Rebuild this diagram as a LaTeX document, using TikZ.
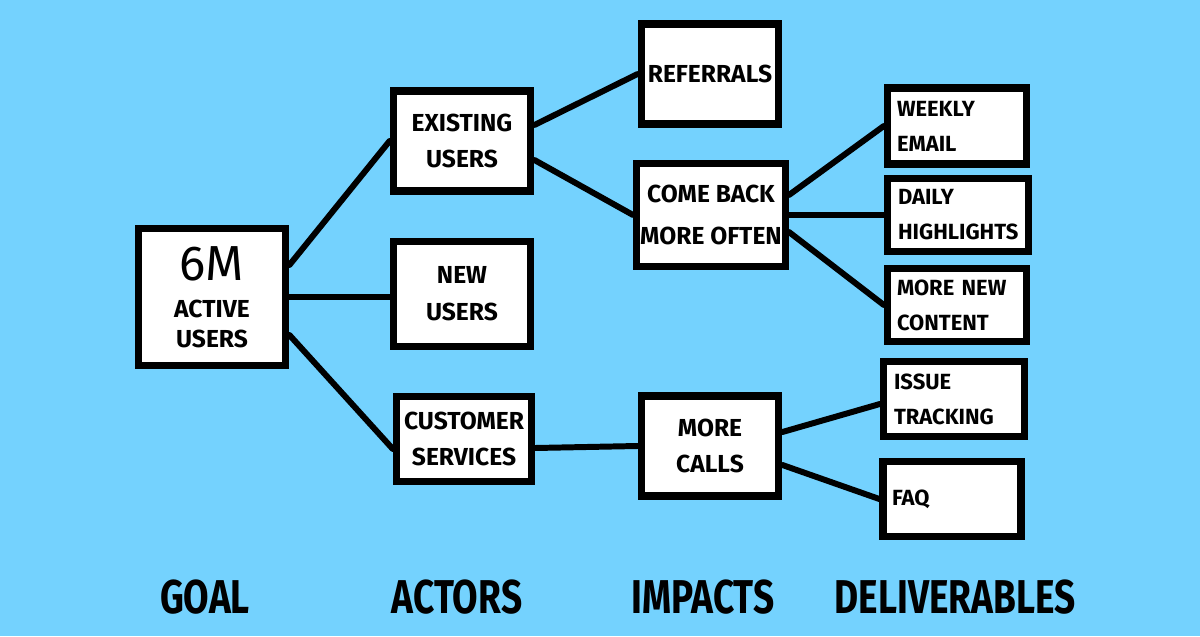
\documentclass[tikz,border=0pt]{standalone}
\usepackage{fontspec}
\usepackage{tkz-euclide}
\usetikzlibrary{calc}

\newfontfamily\handfont{Fira Sans}
\newfontfamily\headfont[FakeStretch=0.78]{Fira Sans}
\definecolor{skyblue}{HTML}{74D2FE}

\tikzset{
  card/.style={draw=black, fill=white, line width=4.2pt, align=center, inner sep=2pt,
    font=\handfont\bfseries\fontsize{14}{21}\selectfont},
  leaf/.style={card, text width=2.4cm, align=left,
    font=\handfont\bfseries\fontsize{12.5}{20}\selectfont},
  twig/.style={line width=3.4pt, line cap=round},
  heading/.style={font=\headfont\bfseries\fontsize{27}{30}\selectfont}
}

\begin{document}
\begin{tikzpicture}[x=0.02cm,y=-0.02cm]
        \fill[skyblue] (0,0) rectangle (1200,636);
        \useasboundingbox (0,0) rectangle (1200,636);

        \tkzDefPoint(212,297){G_0}

        \tkzDefPoint(462,141){A_1}
        \tkzDefPoint(462,294){A_2}
        \tkzDefPoint(464,439){A_3}

        \tkzDefPoint(710,74){I_1}
        \tkzDefPoint(711,215){I_2}
        \tkzDefPoint(710,446){I_3}

        \tkzDefPoint(957,126){D_1}
        \tkzDefPoint(958,215){D_2}
        \tkzDefPoint(957,305){D_3}
        \tkzDefPoint(954,399){D_4}
        \tkzDefPoint(952,499){D_5}

        % goal
        \node[card, minimum width=2.95cm, minimum height=2.75cm,
          font=\handfont\bfseries\fontsize{14}{17}\selectfont] (goal) at (G_0)
          {{\mdseries\fontsize{28}{28}\selectfont 6M}\\[4pt]ACTIVE\\USERS};

        % actors
        \node[card, minimum width=2.75cm, minimum height=2.0cm] (existing) at (A_1) {EXISTING\\USERS};
        \node[card, minimum width=2.75cm, minimum height=2.1cm] (newusers) at (A_2) {NEW\\USERS};
        \node[card, minimum width=2.7cm, minimum height=1.7cm] (custserv) at (A_3) {CUSTOMER\\SERVICES};

        % impacts
        \node[card, minimum width=2.75cm, minimum height=2.0cm] (referrals) at (I_1) {REFERRALS};
        \node[card, minimum width=2.8cm, minimum height=2.05cm,
          font=\handfont\bfseries\fontsize{14}{24}\selectfont] (comeback) at (I_2) {COME BACK\\MORE OFTEN};
        \node[card, minimum width=2.75cm, minimum height=2.0cm] (morecalls) at (I_3) {MORE\\CALLS};

        % deliverables
        \node[leaf, minimum width=2.78cm, minimum height=1.52cm] (weekly) at (D_1) {WEEKLY\\EMAIL};
        \node[leaf, minimum width=2.82cm, minimum height=1.46cm] (daily) at (D_2) {DAILY\\HIGHLIGHTS};
        \node[leaf, minimum width=2.78cm, minimum height=1.46cm] (morenew) at (D_3) {MORE NEW\\CONTENT};
        \node[leaf, minimum width=2.82cm, minimum height=1.5cm] (issue) at (D_4) {ISSUE\\TRACKING};
        \node[leaf, minimum width=2.76cm, minimum height=1.5cm] (faq) at (D_5) {FAQ};

        % connectors
        \draw[twig] ($(goal.east)+(0,-32)$) -- (existing.west);
        \draw[twig] (goal.east) -- (goal.east -| newusers.west);
        \draw[twig] ($(goal.east)+(0,38)$) -- ($(custserv.west)+(0,10)$);
        \draw[twig] ($(existing.east)+(0,-16)$) -- (referrals.west);
        \draw[twig] ($(existing.east)+(0,19)$) -- (comeback.west);
        \draw[twig] ($(custserv.east)+(0,9)$) -- (morecalls.west);
        \draw[twig] ($(comeback.east)+(0,-20)$) -- (weekly.west);
        \draw[twig] (comeback.east) -- (daily.west);
        \draw[twig] ($(comeback.east)+(0,17)$) -- (morenew.west);
        \draw[twig] ($(morecalls.east)+(0,-14)$) -- ($(issue.west)+(0,5)$);
        \draw[twig] ($(morecalls.east)+(0,19)$) -- (faq.west);

        % column headings
        \node[heading] (lblgoal) at (205,597) {GOAL};
        \node[heading] (lblactors) at (457,597) {ACTORS};
        \node[heading] (lblimpacts) at (703,597) {IMPACTS};
        \node[heading] (lbldeliv) at (955,597) {DELIVERABLES};
\end{tikzpicture}
\end{document}
